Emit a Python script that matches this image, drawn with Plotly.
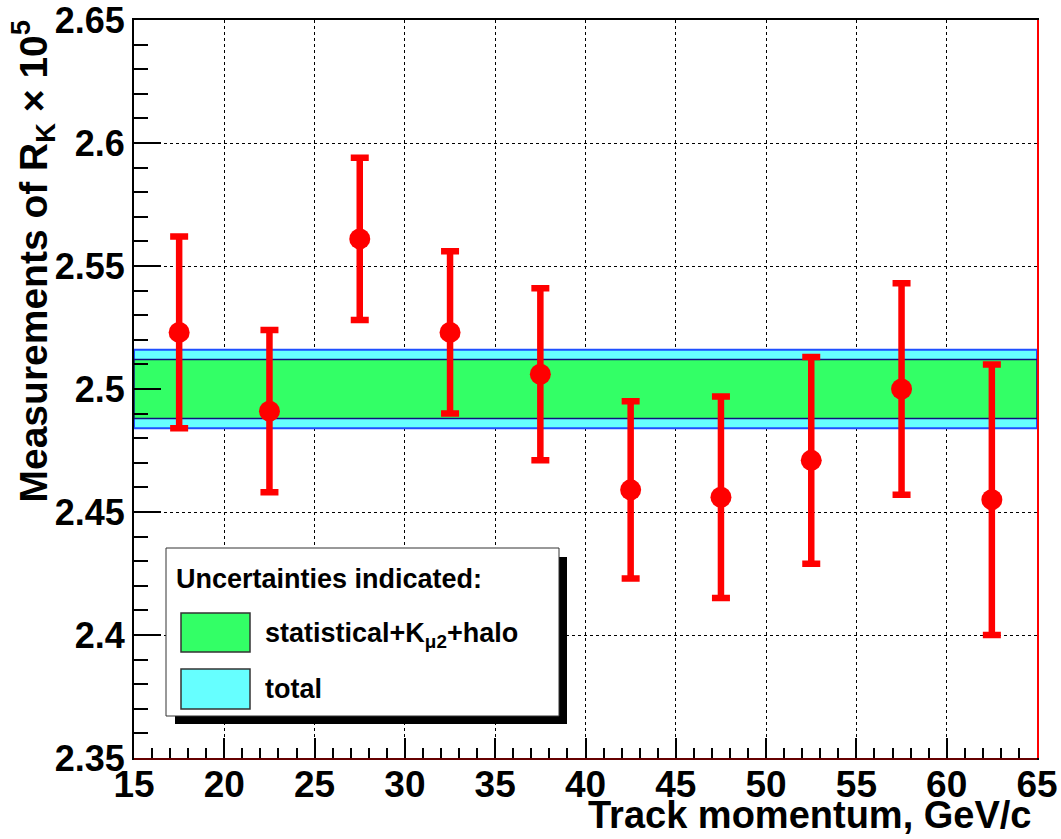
import plotly.graph_objects as go

# ---- data ----
momentum = [17.5, 22.5, 27.5, 32.5, 37.5, 42.5, 47.5, 52.5, 57.5, 62.5]
rk_values = [2.523, 2.491, 2.561, 2.523, 2.506, 2.459, 2.456, 2.471, 2.500, 2.455]
rk_errors = [0.039, 0.033, 0.033, 0.033, 0.035, 0.036, 0.041, 0.042, 0.043, 0.055]
band_center = 2.500
band_stat = 0.012
band_total = 0.016
x_range = [15, 65]
y_range = [2.35, 2.65]
x_ticks = [15, 20, 25, 30, 35, 40, 45, 50, 55, 60, 65]
y_ticks = [2.35, 2.4, 2.45, 2.5, 2.55, 2.6, 2.65]
y_ticktext = ["2.35", "2.4", "2.45", "2.5", "2.55", "2.6", "2.65"]

W, H = 1061, 839
L, R, T, B = 134, 24, 20, 81
PW, PH = W - L - R, H - T - B

def px(x):
    return (x - L) / PW

def py(y):
    return (H - B - y) / PH

FONT = "Liberation Sans, Arial, Helvetica, sans-serif"
EPS = 1e-6

fig = go.Figure()

# total band
fig.add_trace(go.Scatter(
    x=[x_range[0], x_range[1], x_range[1], x_range[0], x_range[0]],
    y=[band_center - band_total, band_center - band_total,
       band_center + band_total, band_center + band_total,
       band_center - band_total],
    mode="lines", fill="toself", fillcolor="#66ffff",
    line=dict(color="#1f4fff", width=2), hoverinfo="skip", showlegend=False))
# stat band
fig.add_trace(go.Scatter(
    x=[x_range[0], x_range[1], x_range[1], x_range[0], x_range[0]],
    y=[band_center - band_stat, band_center - band_stat,
       band_center + band_stat, band_center + band_stat,
       band_center - band_stat],
    mode="lines", fill="toself", fillcolor="#33ff66",
    line=dict(color="#101080", width=1.5), hoverinfo="skip", showlegend=False))

# measurements
fig.add_trace(go.Scatter(
    x=momentum, y=rk_values, mode="markers",
    marker=dict(color="#ff0000", size=21, symbol="circle", line=dict(width=0)),
    error_y=dict(type="data", array=rk_errors, visible=True,
                 color="#ff0000", thickness=6.5, width=9),
    showlegend=False))

shapes = []
# frame red lines (right and bottom)
shapes.append(dict(type="line", xref="paper", yref="paper",
                   x0=px(1038), x1=px(1038), y0=0, y1=1,
                   line=dict(color="#ff0000", width=2), layer="above"))
shapes.append(dict(type="line", xref="paper", yref="paper",
                   x0=0, x1=1, y0=py(759), y1=py(759),
                   line=dict(color="#cc0000", width=1), layer="above"))
# legend shadow and box
shapes.append(dict(type="rect", xref="paper", yref="paper",
                   x0=px(175), x1=px(567), y0=py(724), y1=py(557),
                   fillcolor="black", line=dict(width=0), layer="above"))
shapes.append(dict(type="rect", xref="paper", yref="paper",
                   x0=px(166), x1=px(559), y0=py(716), y1=py(548),
                   fillcolor="white", line=dict(color="#333333", width=1), layer="above"))
# swatches
shapes.append(dict(type="rect", xref="paper", yref="paper",
                   x0=px(181), x1=px(250), y0=py(652), y1=py(613),
                   fillcolor="#33ff66", line=dict(color="#333333", width=1.5), layer="above"))
shapes.append(dict(type="rect", xref="paper", yref="paper",
                   x0=px(181), x1=px(250), y0=py(709), y1=py(669),
                   fillcolor="#66ffff", line=dict(color="#333333", width=1.5), layer="above"))

annotations = [
    dict(text="Uncertainties indicated:", xref="paper", yref="paper",
         x=px(174), y=py(579), xanchor="left", yanchor="middle", showarrow=False,
         font=dict(family=FONT, size=27, color="black", weight="bold")),
    dict(text="statistical+K<sub>\u03bc2</sub>+halo", xref="paper", yref="paper",
         x=px(263), y=py(635), xanchor="left", yanchor="middle", showarrow=False,
         font=dict(family=FONT, size=27, color="black", weight="bold")),
    dict(text="total", xref="paper", yref="paper",
         x=px(263), y=py(689), xanchor="left", yanchor="middle", showarrow=False,
         font=dict(family=FONT, size=27, color="black", weight="bold")),
    dict(text="Track momentum, GeV/c", xref="paper", yref="paper",
         x=px(1034), y=py(815), xanchor="right", yanchor="middle", showarrow=False,
         font=dict(family=FONT, size=38, color="black", weight="bold")),
    dict(text="Measurements of R<sub>K</sub> \u00d7 10<sup>5</sup>", xref="paper", yref="paper",
         x=px(33), y=py(18), xanchor="center", yanchor="top", textangle=-90,
         showarrow=False,
         font=dict(family=FONT, size=39, color="black", weight="bold")),
]

fig.update_layout(
    width=W, height=H,
    margin=dict(l=L, r=R, t=T, b=B, autoexpand=False),
    paper_bgcolor="white", plot_bgcolor="white",
    shapes=shapes, annotations=annotations,
    showlegend=False,
    xaxis=dict(range=[x_range[0] - EPS, x_range[1] + EPS], tickvals=x_ticks,
               ticks="inside", ticklen=20, automargin=False,
               ticklabeloverflow="allow", ticklabelstandoff=-7,
               tickwidth=1.5, tickcolor="black",
               showline=True, linecolor="black", linewidth=2, mirror=True,
               showgrid=True, gridcolor="black", gridwidth=1, griddash="dot",
               zeroline=False,
               minor=dict(dtick=1, ticks="inside", ticklen=10, tickcolor="black",
                          tickwidth=1.5, showgrid=False),
               tickfont=dict(family=FONT, size=37, color="black", weight="bold")),
    yaxis=dict(range=[y_range[0] - EPS, y_range[1] + EPS], tickvals=y_ticks,
               ticktext=y_ticktext, automargin=False,
               ticklabeloverflow="allow",
               ticks="inside", ticklen=27,
               tickwidth=1.5, tickcolor="black",
               showline=True, linecolor="black", linewidth=2, mirror=True,
               showgrid=True, gridcolor="black", gridwidth=1, griddash="dot",
               zeroline=False,
               minor=dict(dtick=0.01, ticks="inside", ticklen=14, tickcolor="black",
                          tickwidth=1.5, showgrid=False),
               tickfont=dict(family=FONT, size=36, color="black", weight="bold")),
)

fig.write_html("out.html")
